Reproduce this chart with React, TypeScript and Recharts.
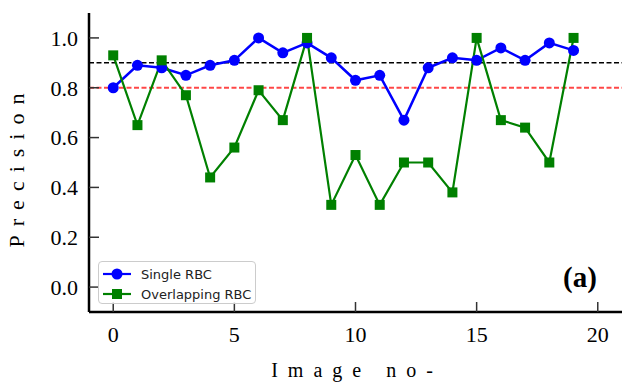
import { LineChart, Line, XAxis, YAxis, ReferenceLine, Legend } from "recharts";

const imageNo = [0, 1, 2, 3, 4, 5, 6, 7, 8, 9, 10, 11, 12, 13, 14, 15, 16, 17, 18, 19];
const singleRbc = [0.8, 0.89, 0.88, 0.85, 0.89, 0.91, 1.0, 0.94, 0.98, 0.92, 0.83, 0.85, 0.67, 0.88, 0.92, 0.91, 0.96, 0.91, 0.98, 0.95];
const overlappingRbc = [0.93, 0.65, 0.91, 0.77, 0.44, 0.56, 0.79, 0.67, 1.0, 0.33, 0.53, 0.33, 0.5, 0.5, 0.38, 1.0, 0.67, 0.64, 0.5, 1.0];
const xTicks = [0, 5, 10, 15, 20];
const yTicks = [0, 0.2, 0.4, 0.6, 0.8, 1.0];

const data = imageNo.map((n, i) => ({
  n,
  single: singleRbc[i],
  overlapping: overlappingRbc[i],
}));

const serif = "'Liberation Serif', 'Times New Roman', serif";
const tickStyle = { fontFamily: serif, fontSize: 22, fill: "#000" };
const blank = () => "";

// svg text in the axes picks its font from here
const css = `
.precision-chart .recharts-cartesian-axis-tick-value {
  font-family: ${serif};
  font-size: 22px;
  fill: #000;
}
`;

function Square(p: any) {
  return (
    <rect
      key={`sq-${p.index}`}
      x={p.cx - 5}
      y={p.cy - 5}
      width={10}
      height={10}
      fill="#008000"
    />
  );
}

function LegendBox() {
  const rows = [
    { label: "Single RBC", color: "#0000ff", square: false },
    { label: "Overlapping RBC", color: "#008000", square: true },
  ];
  return (
    <div
      style={{
        width: 158,
        height: 43,
        border: "1px solid #cccccc",
        borderRadius: 4,
        background: "rgba(255,255,255,0.85)",
        boxSizing: "border-box",
        paddingTop: 2,
        fontFamily: "'DejaVu Sans', sans-serif",
        fontSize: 13,
        color: "#222",
      }}
    >
      {rows.map((r) => (
        <div key={r.label} style={{ display: "flex", alignItems: "center", height: 20 }}>
          <svg width={42} height={14} style={{ flex: "none" }}>
            <line x1={4} y1={7} x2={32} y2={7} stroke={r.color} strokeWidth={2.2} />
            {r.square ? (
              <rect x={13} y={2} width={10} height={10} fill={r.color} />
            ) : (
              <circle cx={18} cy={7} r={5.5} fill={r.color} />
            )}
          </svg>
          <span>{r.label}</span>
        </div>
      ))}
    </div>
  );
}

export default function App() {
  return (
    <div
      className="precision-chart"
      style={{
        position: "absolute",
        left: 0,
        top: 0,
        width: 622,
        height: 385,
        overflow: "hidden",
        background: "#fff",
        fontFamily: serif,
      }}
    >
      <style>{css}</style>
      <LineChart
        width={625}
        height={385}
        data={data}
        margin={{ top: 13, right: 3, left: 9, bottom: 33 }}
      >
        <XAxis
          dataKey="n"
          type="number"
          domain={[-1, 21]}
          ticks={xTicks}
          interval={0}
          allowDataOverflow
          height={40}
          tick={tickStyle}
          tickSize={-10}
          tickMargin={24}
          axisLine={{ stroke: "#000", strokeWidth: 2.5 }}
          tickLine={{ stroke: "#333", strokeWidth: 1.5 }}
        />
        <XAxis
          xAxisId="top"
          orientation="top"
          dataKey="n"
          type="number"
          domain={[-1, 21]}
          ticks={xTicks}
          interval={0}
          allowDataOverflow
          height={0}
          tickFormatter={blank}
          tickSize={-10}
          axisLine={{ stroke: "#000", strokeWidth: 2.5 }}
          tickLine={{ stroke: "#333", strokeWidth: 1.5 }}
        />
        <YAxis
          type="number"
          domain={[-0.1, 1.1]}
          ticks={yTicks}
          interval={0}
          allowDataOverflow
          width={80}
          tick={tickStyle}
          tickFormatter={(v: number) => v.toFixed(1)}
          tickSize={-10}
          tickMargin={21}
          axisLine={{ stroke: "#000", strokeWidth: 2.5 }}
          tickLine={{ stroke: "#333", strokeWidth: 1.5 }}
        />
        <YAxis
          yAxisId="right"
          orientation="right"
          type="number"
          domain={[-0.1, 1.1]}
          ticks={yTicks}
          interval={0}
          allowDataOverflow
          width={0}
          tickFormatter={blank}
          tickSize={-10}
          axisLine={{ stroke: "#000", strokeWidth: 2.5 }}
          tickLine={{ stroke: "#333", strokeWidth: 1.5 }}
        />
        <ReferenceLine y={0.9} stroke="#000" strokeWidth={1.5} strokeDasharray="5 2.5" />
        <ReferenceLine y={0.8} stroke="rgba(255,0,0,0.72)" strokeWidth={2} strokeDasharray="5 2.5" />
        <Line
          dataKey="single"
          stroke="#0000ff"
          strokeWidth={2.5}
          dot={{ r: 5.5, fill: "#0000ff", stroke: "none" }}
          activeDot={false}
          isAnimationActive={false}
        />
        <Line
          dataKey="overlapping"
          stroke="#008000"
          strokeWidth={2.2}
          dot={Square}
          activeDot={false}
          isAnimationActive={false}
        />
        <Legend
          content={LegendBox}
          layout="vertical"
          align="center"
          verticalAlign="middle"
          wrapperStyle={{ left: 98, top: 261, width: "auto" }}
        />
      </LineChart>
      <div
        style={{
          position: "absolute",
          left: 17,
          top: 166,
          transform: "translate(-50%, -50%) rotate(-90deg)",
          fontFamily: serif,
          fontSize: 22,
          letterSpacing: 9,
          whiteSpace: "nowrap",
          lineHeight: "22px",
        }}
      >
        Precision
      </div>
      <div
        style={{
          position: "absolute",
          left: 357,
          top: 360,
          transform: "translateX(-50%)",
          fontFamily: serif,
          fontSize: 20,
          letterSpacing: 10,
          whiteSpace: "nowrap",
          lineHeight: "20px",
        }}
      >
        Image no-
      </div>
      <div
        style={{
          position: "absolute",
          left: 563,
          top: 263,
          fontFamily: serif,
          fontSize: 29,
          fontWeight: "bold",
          lineHeight: "29px",
        }}
      >
        (a)
      </div>
    </div>
  );
}
